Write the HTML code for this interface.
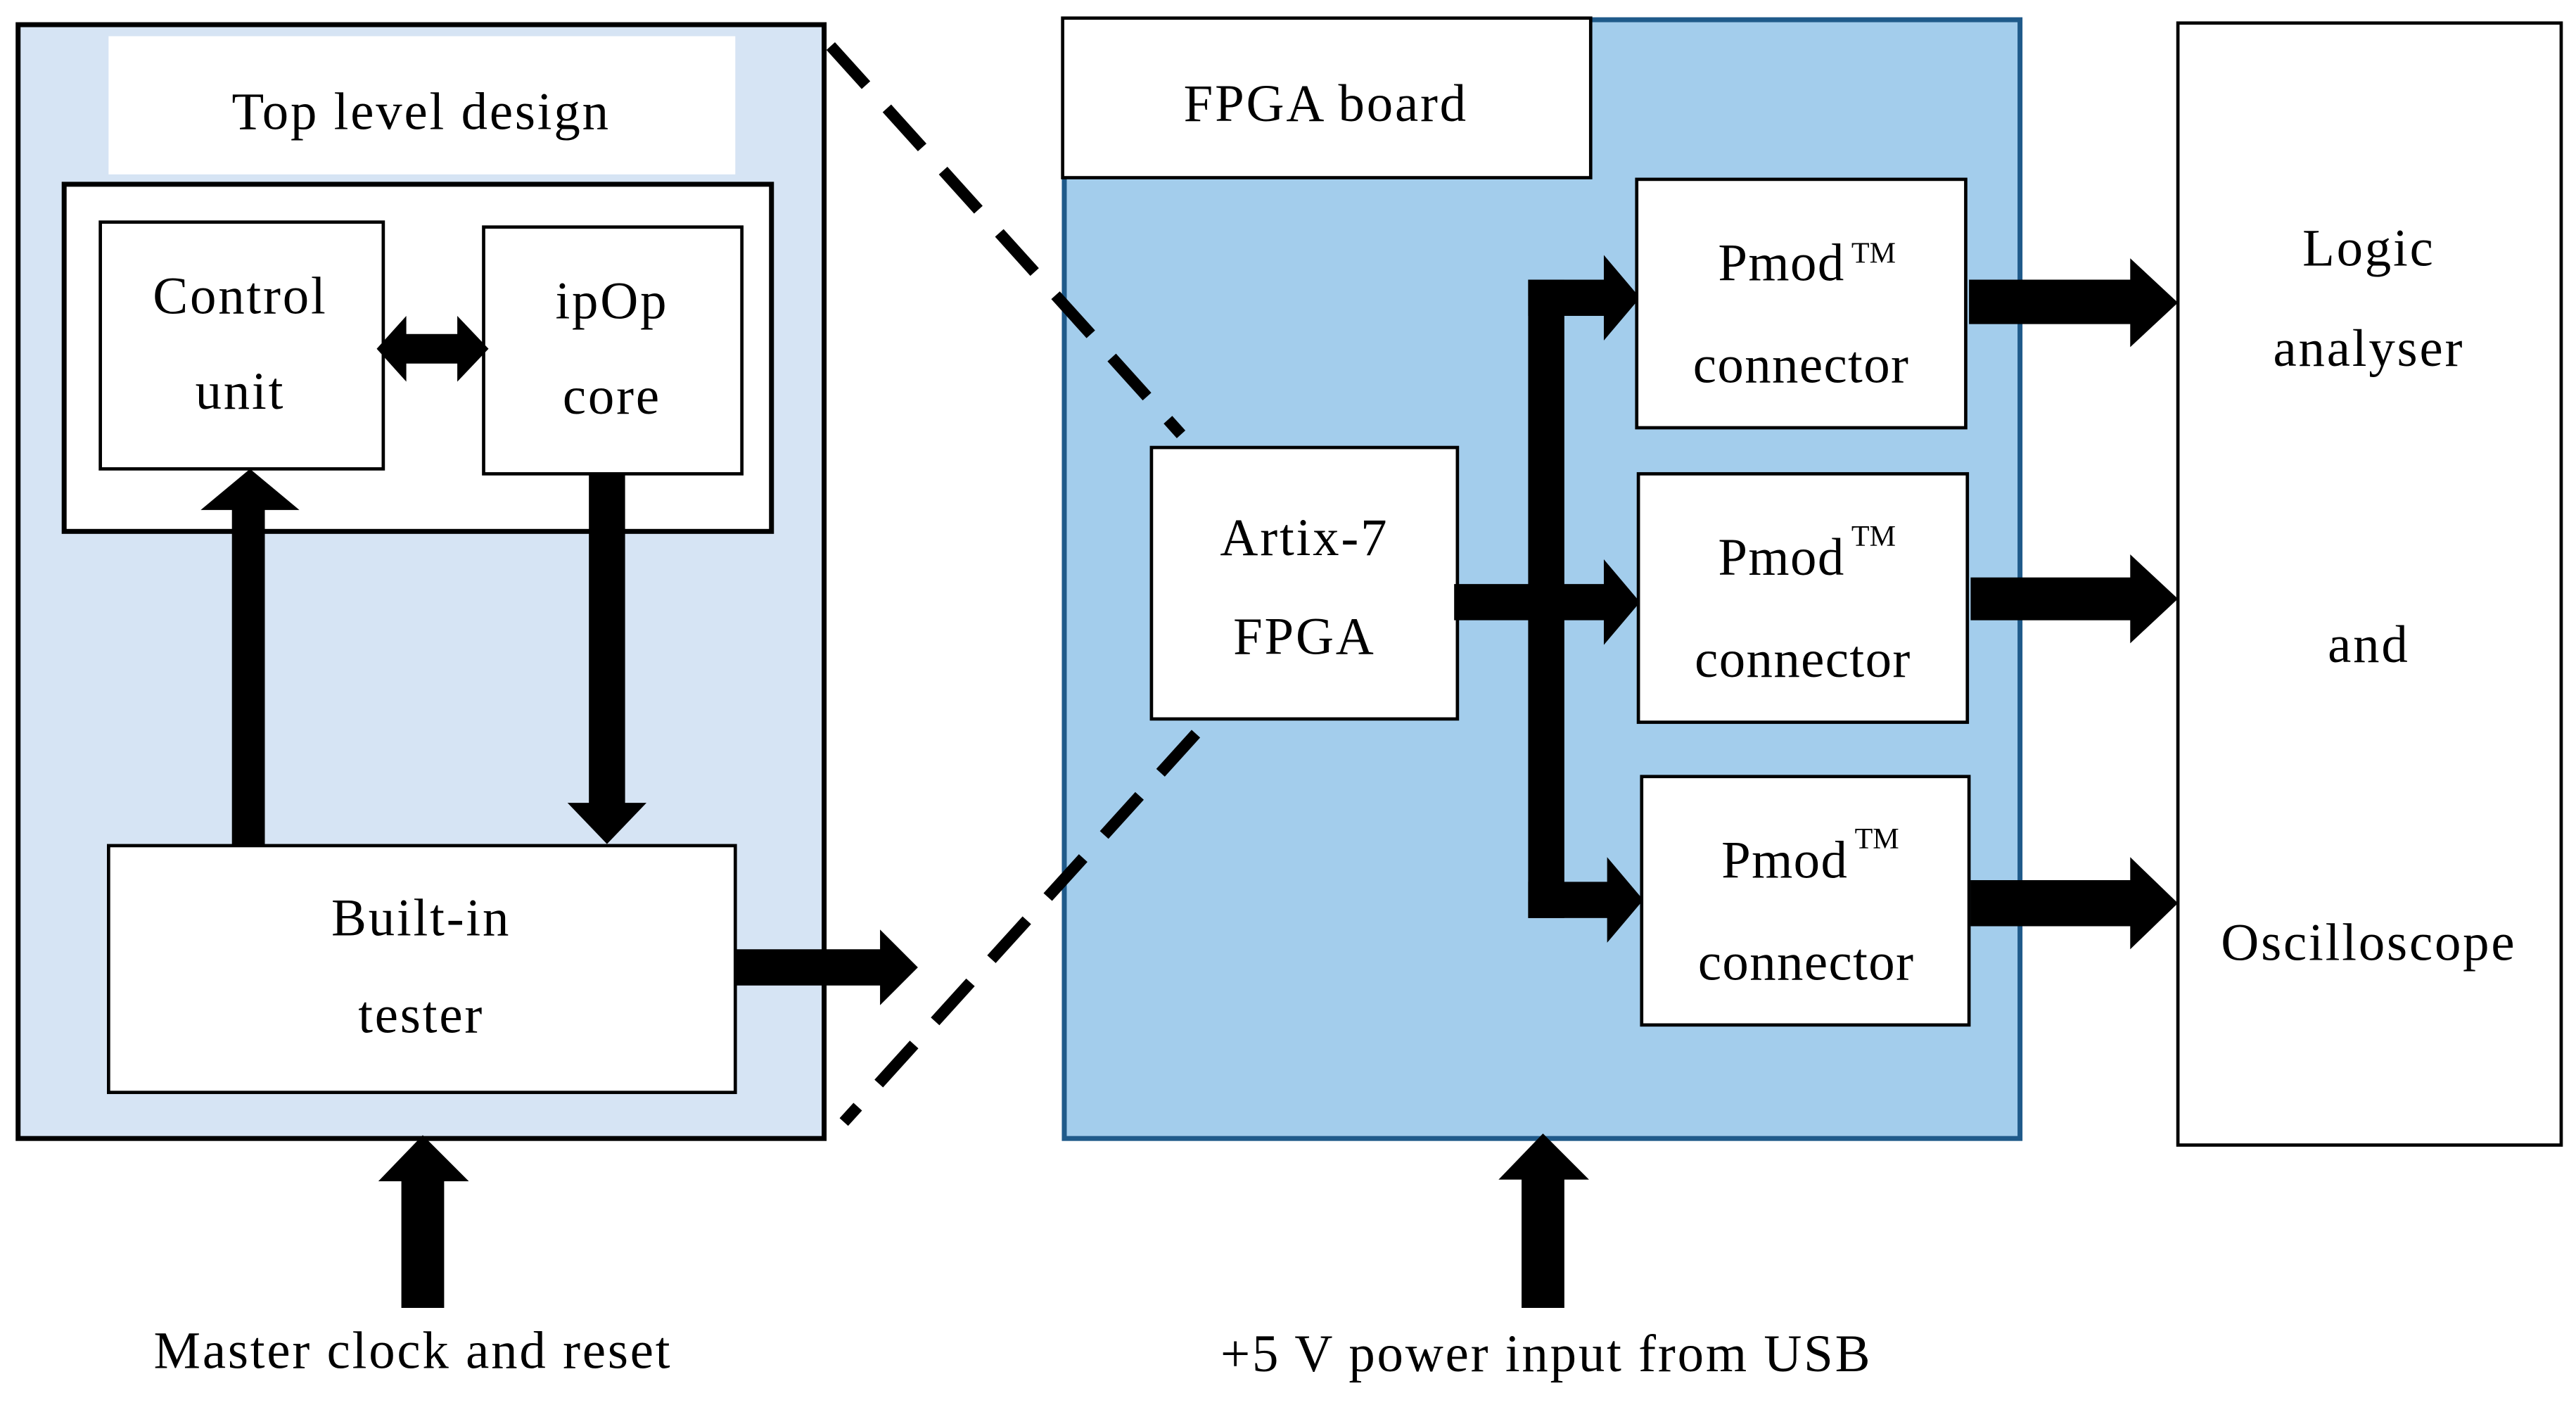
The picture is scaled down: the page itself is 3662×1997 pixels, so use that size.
<!DOCTYPE html>
<html><head><meta charset="utf-8"><style>
html,body{margin:0;padding:0;background:#fff;}
svg{display:block;}
text{font-family:"Liberation Serif",serif;font-size:32px;letter-spacing:1.2px;fill:#000;text-anchor:middle;dominant-baseline:central;}
.p{letter-spacing:0.6px;}
</style></head><body>
<svg width="3662" height="1997" viewBox="0 0 1566 854" preserveAspectRatio="none" xmlns="http://www.w3.org/2000/svg">
<!-- Left design box -->
<rect x="11" y="15" width="490" height="677" fill="#d6e4f4" stroke="#000" stroke-width="3"/>
<rect x="66" y="22" width="381" height="84" fill="#fff"/>
<text x="256" y="68">Top level design</text>
<rect x="39" y="112" width="430" height="211" fill="#fff" stroke="#000" stroke-width="3"/>
<rect x="61" y="135" width="172" height="150" fill="#fff" stroke="#000" stroke-width="2"/>
<text x="146" y="180">Control</text>
<text x="146" y="238">unit</text>
<rect x="294" y="138" width="157" height="150" fill="#fff" stroke="#000" stroke-width="2"/>
<text x="372" y="183">ipOp</text>
<text x="372" y="241">core</text>
<!-- double arrow -->
<polygon points="229,212 247,192 247,203 278,203 278,192 297,212 278,232 278,221 247,221 247,232"/>
<!-- up arrow to control unit -->
<polygon points="141,515 161,515 161,310 182,310 152,285 122,310 141,310"/>
<!-- down arrow from ipOp -->
<polygon points="358,288 380,288 380,488 393,488 369,513 345,488 358,488"/>
<rect x="66" y="514" width="381" height="150" fill="#fff" stroke="#000" stroke-width="2"/>
<text x="256" y="558">Built-in</text>
<text x="256" y="617">tester</text>
<!-- right arrow from tester -->
<polygon points="447,577 535,577 535,565 558,588 535,611 535,599 447,599"/>
<!-- bottom up arrow -->
<polygon points="244,795 270,795 270,718 285,718 257,690 230,718 244,718"/>
<text x="251" y="821">Master clock and reset</text>
<!-- FPGA board -->
<rect x="647" y="12" width="581" height="680" fill="#a3cdec" stroke="#1f5a8a" stroke-width="3"/>
<rect x="646" y="11" width="321" height="97" fill="#fff" stroke="#000" stroke-width="2"/>
<text x="806" y="63">FPGA board</text>
<!-- dashed lines -->
<line x1="505" y1="28" x2="718" y2="264" stroke="#000" stroke-width="7" stroke-dasharray="32,19"/>
<line x1="727" y1="446" x2="513" y2="682" stroke="#000" stroke-width="7" stroke-dasharray="32,19"/>
<rect x="700" y="272" width="186" height="165" fill="#fff" stroke="#000" stroke-width="2"/>
<text x="793" y="327">Artix-7</text>
<text x="793" y="387">FPGA</text>
<!-- bus -->
<rect x="884" y="355" width="93" height="22"/>
<rect x="929" y="170" width="22" height="388"/>
<rect x="929" y="170" width="48" height="22"/>
<rect x="929" y="536" width="50" height="22"/>
<polygon points="975,155 997,181 975,207"/>
<polygon points="975,340 997,366 975,392"/>
<polygon points="977,521 999,547 977,573"/>
<!-- Pmod boxes -->
<rect x="995" y="109" width="200" height="151" fill="#fff" stroke="#000" stroke-width="2"/>
<text class="p" x="1083" y="160">Pmod</text><text x="1139" y="154" style="font-size:18px;letter-spacing:0">TM</text>
<text class="p" x="1095" y="222">connector</text>
<rect x="996" y="288" width="200" height="151" fill="#fff" stroke="#000" stroke-width="2"/>
<text class="p" x="1083" y="339">Pmod</text><text x="1139" y="326" style="font-size:18px;letter-spacing:0">TM</text>
<text class="p" x="1096" y="401">connector</text>
<rect x="998" y="472" width="199" height="151" fill="#fff" stroke="#000" stroke-width="2"/>
<text class="p" x="1085" y="523">Pmod</text><text x="1141" y="510" style="font-size:18px;letter-spacing:0">TM</text>
<text class="p" x="1098" y="585">connector</text>
<!-- output arrows -->
<polygon points="1197,170 1295,170 1295,157 1324,184 1295,211 1295,197 1197,197"/>
<polygon points="1198,351 1295,351 1295,337 1324,364 1295,391 1295,377 1198,377"/>
<polygon points="1198,535 1295,535 1295,521 1324,549 1295,577 1295,563 1198,563"/>
<!-- analyser box -->
<rect x="1324" y="14" width="233" height="682" fill="#fff" stroke="#000" stroke-width="2"/>
<text x="1440" y="151">Logic</text>
<text x="1440" y="212">analyser</text>
<text x="1440" y="392">and</text>
<text x="1440" y="573">Oscilloscope</text>
<!-- power arrow -->
<polygon points="925,795 951,795 951,717 966,717 938,689 911,717 925,717"/>
<text x="940" y="823">+5 V power input from USB</text>
</svg>
</body></html>
